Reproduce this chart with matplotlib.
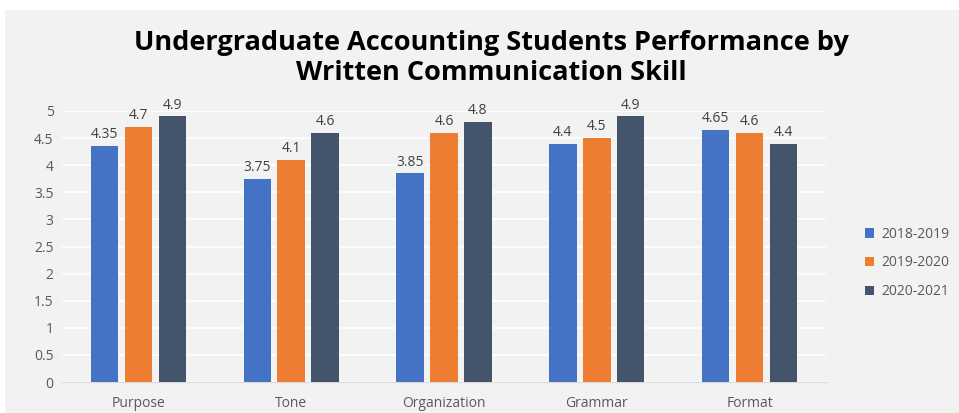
import matplotlib
matplotlib.use("Agg")
import matplotlib.pyplot as plt
from matplotlib.patches import Rectangle
import numpy as np

categories = ["Purpose", "Tone", "Organization", "Grammar", "Format"]
series_names = ["2018-2019", "2019-2020", "2020-2021"]
v2018 = [4.35, 3.75, 3.85, 4.4, 4.65]
v2019 = [4.7, 4.1, 4.6, 4.5, 4.6]
v2020 = [4.9, 4.6, 4.8, 4.9, 4.4]
yticks = [0, 0.5, 1, 1.5, 2, 2.5, 3, 3.5, 4, 4.5, 5]
title = "Undergraduate Accounting Students Performance by\nWritten Communication Skill"

colors = ["#4472C4", "#ED7D31", "#44546A"]
bg = "#F2F2F2"

fig = plt.figure(figsize=(9.59, 4.13), dpi=100)
fig.patch.set_facecolor("white")
fig.add_artist(Rectangle((5/959, 0), 1, 1 - 10/413, transform=fig.transFigure,
                         facecolor=bg, edgecolor="none", zorder=0))

ax = fig.add_axes([62/959, 1 - 382/413, 764/959, (382 - 111)/413])
ax.set_facecolor("none")
x = np.arange(len(categories))
w = 0.18
off = 0.222
for i, (vals, name) in enumerate(zip([v2018, v2019, v2020], series_names)):
    bars = ax.bar(x + (i - 1) * off, vals, width=w, color=colors[i], label=name, zorder=3)
    for b, v in zip(bars, vals):
        ax.text(b.get_x() + b.get_width() / 2, v + 0.07, f"{v:g}", ha="center", va="bottom",
                fontsize=10, color="#404040", family="Open Sans")

ax.set_xlim(-0.5, len(categories) - 0.5)
ax.set_ylim(0, 5)
ax.set_yticks(yticks)
ax.set_yticklabels([f"{t:g}" for t in yticks])
ax.set_xticks(x)
ax.set_xticklabels(categories)
ax.tick_params(axis="both", length=0, labelsize=10, labelcolor="#595959")
ax.tick_params(axis="x", pad=10)
ax.tick_params(axis="y", pad=6)
for lab in ax.get_xticklabels() + ax.get_yticklabels():
    lab.set_family("Open Sans")
ax.grid(axis="y", color="white", linewidth=1.2, zorder=0)
for s in ["top", "right", "left"]:
    ax.spines[s].set_visible(False)
ax.spines["bottom"].set_color("#D9D9D9")

fig.text(491/959, 1 - 58/413, title, ha="center", va="center", fontsize=19.5,
         fontweight="bold", family="Open Sans", color="black", linespacing=1.2)

leg = fig.legend(loc="upper left", bbox_to_anchor=(852/959, 1 - 214/413), frameon=False,
                 handlelength=0.7, handleheight=0.7, labelspacing=1.0,
                 handletextpad=0.5, prop={"family": "Open Sans", "size": 10})
for t in leg.get_texts():
    t.set_color("#595959")

fig.savefig("out.png", dpi=100, facecolor=fig.get_facecolor())
